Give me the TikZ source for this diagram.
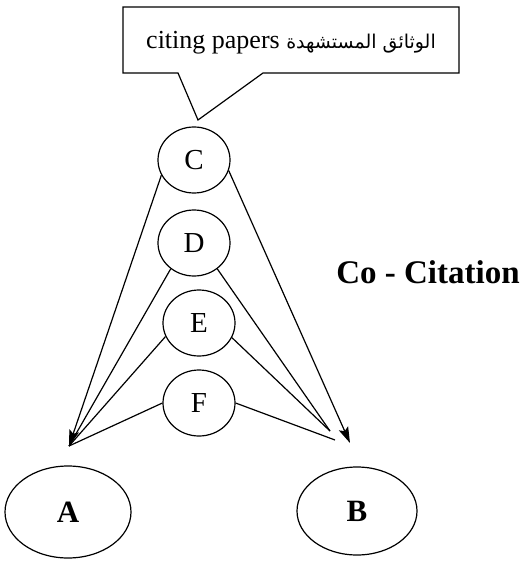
\documentclass[tikz,border=0pt]{standalone}
\usepackage{fontspec}
\setmainfont{Liberation Serif}
\newfontfamily\arabicfont[Script=Arabic]{DejaVu Sans}
\TeXXeTstate=1
\usetikzlibrary{arrows.meta,shapes.geometric}
\tikzset{
  cite/.style={draw,line width=1.2pt,ellipse,minimum width=72pt,minimum height=66pt,inner sep=0pt,font=\fontsize{29}{34}\selectfont},
  paper/.style={draw,line width=1.2pt,ellipse,inner sep=0pt,font=\bfseries\fontsize{31}{36}\selectfont},
  link/.style={line width=1.2pt},
  arr/.style={line width=1.2pt,-{Stealth[length=16pt,width=10pt,inset=3pt]}}
}
\begin{document}
\begin{tikzpicture}[x=1pt,y=-1pt]
\useasboundingbox (0,0) rectangle (526,561);
% callout
\draw[line width=1.2pt] (123,7) -- (459,7) -- (459,73) -- (263,73) -- (198,120) -- (178,73) -- (123,73) -- cycle;
\node (lbl) at (291,43) {\fontsize{26}{30}\selectfont citing papers {\arabicfont\fontsize{19}{22}\selectfont\beginR الوثائق المستشهدة\endR}};
% citing papers
\node[cite] (C) at (194,160) {C};
\node[cite] (D) at (194,243) {D};
\node[cite] (E) at (199,323) {E};
\node[cite] (F) at (199,403) {F};
% cited papers
\node[paper,minimum width=126pt,minimum height=92pt] (A) at (68,512) {A};
\node[paper,minimum width=120pt,minimum height=88pt] (B) at (357,511) {B};
\node[font=\bfseries\fontsize{33}{38}\selectfont] (co) at (428,272) {Co - Citation};
% end points
\coordinate (ta) at (69,446);
\coordinate (tb) at (350,443);
\coordinate (tde) at (330,431);
\coordinate (tf) at (335,440);
% connectors
\draw[arr] (C.205) -- (ta);
\draw[arr] (C.343) -- (tb);
\draw[link] (D.228) -- (ta);
\draw[link] (D.312) -- (tde);
\draw[link] (E.202) -- (ta);
\draw[link] (E.336) -- (tde);
\draw[link] (F.180) -- (ta);
\draw[link] (F.0) -- (tf);
\end{tikzpicture}
\end{document}
